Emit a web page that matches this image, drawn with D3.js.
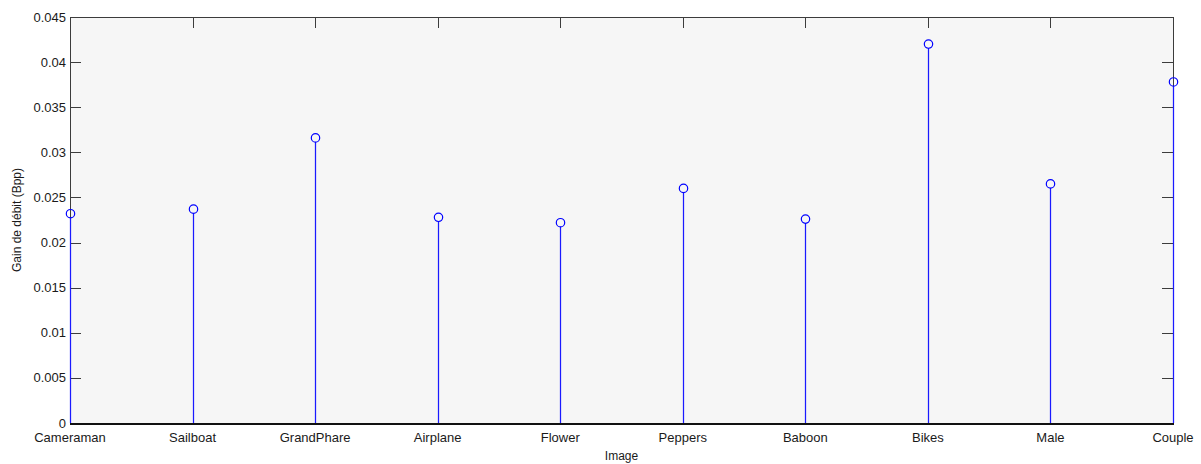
<!DOCTYPE html>
<html>
<head>
<meta charset="utf-8">
<script src="https://cdn.jsdelivr.net/npm/d3@7"></script>
<style>
  html, body { margin: 0; padding: 0; background: #ffffff; }
  svg text { font-family: "Liberation Sans", Arial, sans-serif; fill: #1a1a1a; }
</style>
</head>
<body>
<svg id="chart" width="1201" height="464"></svg>
<script>
// Rate gain per test image (bits per pixel)
const images = ["Cameraman", "Sailboat", "GrandPhare", "Airplane", "Flower",
                "Peppers", "Baboon", "Bikes", "Male", "Couple"];
const gains = [0.0232, 0.0237, 0.0316, 0.0228, 0.0222,
               0.0260, 0.0226, 0.0420, 0.0265, 0.0378];
const yTicks = [0, 0.005, 0.01, 0.015, 0.02, 0.025, 0.03, 0.035, 0.04, 0.045];
const yTickLabels = ["0", "0.005", "0.01", "0.015", "0.02", "0.025", "0.03", "0.035", "0.04", "0.045"];

const svg = d3.select("#chart");
const box = { left: 70, right: 1173, top: 17, bottom: 423 };
const tickLen = 11;
const axisColor = "#3c3c3c";

const x = d3.scalePoint().domain(images).range([box.left, box.right]);
const y = d3.scaleLinear().domain([0, 0.045]).range([box.bottom, box.top]);
const px = v => Math.round(v) + 0.5;   // pixel centre for crisp 1px lines
const edge = v => Math.round(v);

// plot background
svg.append("rect")
  .attr("x", box.left).attr("y", box.top)
  .attr("width", box.right - box.left).attr("height", box.bottom - box.top)
  .attr("fill", "#f6f6f6");

// inward ticks on all four sides
const g = svg.append("g").attr("stroke", axisColor).attr("stroke-width", 1);
yTicks.forEach(t => {
  g.append("line").attr("x1", box.left).attr("x2", box.left + tickLen).attr("y1", px(y(t))).attr("y2", px(y(t)));
  g.append("line").attr("x1", box.right - tickLen).attr("x2", box.right).attr("y1", px(y(t))).attr("y2", px(y(t)));
});
images.forEach(c => {
  g.append("line").attr("x1", px(x(c))).attr("x2", px(x(c))).attr("y1", box.top).attr("y2", box.top + tickLen);
});

// frame
svg.append("rect")
  .attr("x", box.left + 0.5).attr("y", box.top + 0.5)
  .attr("width", box.right - box.left).attr("height", box.bottom - box.top)
  .attr("fill", "none").attr("stroke", axisColor).attr("stroke-width", 1);
svg.append("line")
  .attr("x1", box.left).attr("x2", box.right + 1).attr("y1", box.bottom + 1).attr("y2", box.bottom + 1)
  .attr("stroke", "#111").attr("stroke-width", 2);

// stems
svg.append("g").selectAll("line").data(images).join("line")
  .attr("x1", d => edge(x(d)) + 0.5).attr("x2", d => edge(x(d)) + 0.5)
  .attr("y1", y(0)).attr("y2", (d, i) => y(gains[i]) + 4)
  .attr("stroke", "#1a1aff").attr("stroke-width", 1.25);

// markers
svg.append("g").selectAll("circle").data(images).join("circle")
  .attr("cx", d => edge(x(d)) + 0.5).attr("cy", (d, i) => y(gains[i]))
  .attr("r", 4.2)
  .attr("fill", "none").attr("stroke", "#0000ff").attr("stroke-width", 1.2);

// y tick labels
svg.append("g").selectAll("text").data(yTicks).join("text")
  .attr("x", box.left - 4).attr("y", d => y(d) + 4.5)
  .attr("text-anchor", "end").attr("font-size", 13)
  .text((d, i) => yTickLabels[i]);

// x tick labels
svg.append("g").selectAll("text").data(images).join("text")
  .attr("x", d => x(d)).attr("y", 442)
  .attr("text-anchor", "middle").attr("font-size", 13)
  .text(d => d);

// axis titles
svg.append("text")
  .attr("x", (box.left + box.right) / 2).attr("y", 460)
  .attr("text-anchor", "middle").attr("font-size", 12)
  .text("Image");
svg.append("text")
  .attr("transform", `translate(21, ${(box.top + box.bottom) / 2}) rotate(-90)`)
  .attr("text-anchor", "middle").attr("font-size", 12)
  .text("Gain de débit (Bpp)");
</script>
</body>
</html>
